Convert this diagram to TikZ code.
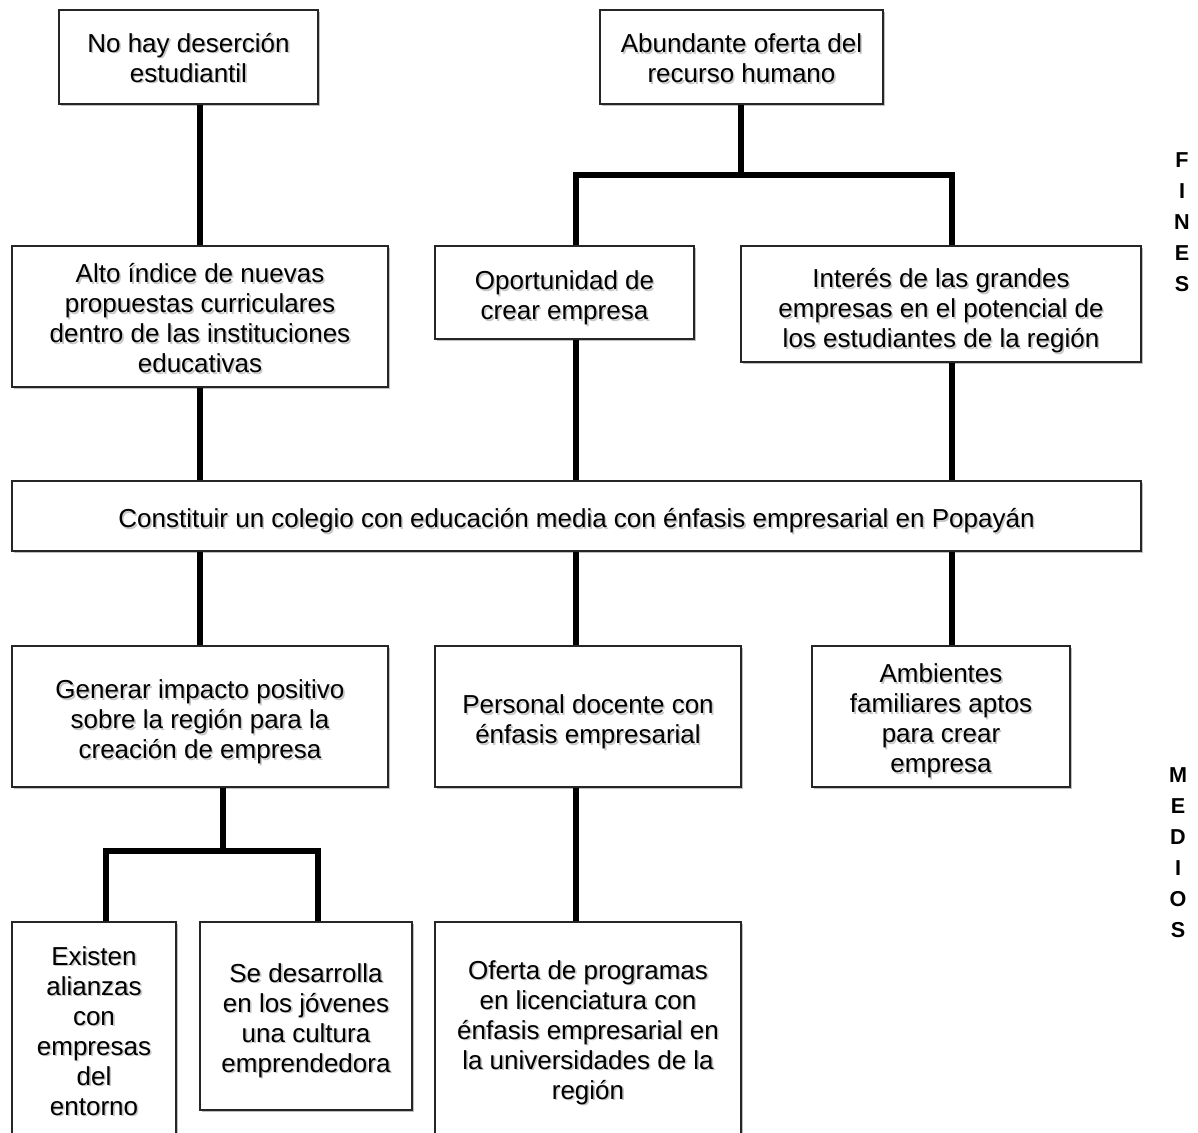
\documentclass[tikz,border=0pt]{standalone}
\usepackage{fontspec}
\setmainfont{Liberation Sans}
\usetikzlibrary{shadows}
% a framed box (#2 name, #3 width, #4 height, #5 centre) with its text #6,
% the text lowered by #1 and given a soft shadow of its own
\newcommand\tbox[6][-2.3pt]{%
  \node[box, minimum width=#3, minimum height=#4] (#2) at #5 {};
  \node[txt, text=black!22] (#2s) at ([shift={(0.8pt,#1-0.8pt)}]#2.center) {#6};
  \node[txt] (#2t) at ([yshift=#1]#2.center) {#6};}
\begin{document}
\begin{tikzpicture}[x=0.5pt,y=-0.5pt,
  box/.style={draw=black!85, line width=0.8pt, fill=white, inner sep=0pt,
    drop shadow={shadow xshift=1.2pt, shadow yshift=-1.2pt, opacity=0.25, fill=black}},
  txt/.style={align=center, inner sep=0pt, font=\fontsize{13}{15}\selectfont},
  conn/.style={line width=2.6pt, line join=miter},
  side/.style={align=center, font=\bfseries\fontsize{10.8}{15.5}\selectfont, inner sep=0pt}]
\useasboundingbox (0,0) rectangle (1198,1132);
\clip (0,0) rectangle (1198,1132);
\fill[white] (0,0) rectangle (1198,1132);

% column positions of the connectors
\coordinate (cA) at (200,0);
\coordinate (cB) at (576,0);
\coordinate (cC) at (952,0);
\coordinate (cD) at (106,0);
\coordinate (cE) at (318,0);
\coordinate (j1) at (741,175);
\coordinate (j2) at (223,851);

% fines
\tbox[-0.4pt]{b1}{129.5pt}{47pt}{(188.5,57)}{No hay deserción\\estudiantil}
\tbox[-0.8pt]{b2}{141.5pt}{47pt}{(741.5,57)}{Abundante oferta del\\recurso humano}
\tbox[-0.8pt]{b3}{188pt}{70.5pt}{(200,316.5)}{Alto índice de nuevas\\propuestas curriculares\\dentro de las instituciones\\educativas}
\tbox[-2.8pt]{b4}{129.5pt}{46.5pt}{(564.5,292.5)}{Oportunidad de\\crear empresa}
\tbox[-3.3pt]{b5}{200pt}{58pt}{(941,304)}{Interés de las grandes\\empresas en el potencial de\\los estudiantes de la región}

% objetivo central
\tbox{b6}{564.5pt}{35pt}{(576.5,516)}{Constituir un colegio con educación media con énfasis empresarial en Popayán}

% medios
\tbox[-2.8pt]{b7}{188pt}{70.5pt}{(200,716.5)}{Generar impacto positivo\\sobre la región para la\\creación de empresa}
\tbox[-2.8pt]{b8}{153pt}{70.5pt}{(588,716.5)}{Personal docente con\\énfasis empresarial}
\tbox{b9}{129pt}{70.5pt}{(941,716.5)}{Ambientes\\familiares aptos\\para crear\\empresa}
\tbox[0pt]{b10}{82pt}{109pt}{(94,1031)}{Existen\\alianzas\\con\\empresas\\del\\entorno}
\tbox{b11}{106pt}{94pt}{(306,1016)}{Se desarrolla\\en los jóvenes\\una cultura\\emprendedora}
\tbox[-0.8pt]{b12}{153pt}{109pt}{(588,1031)}{Oferta de programas\\en licenciatura con\\énfasis empresarial en\\la universidades de la\\región}

% connectors, upper part
\draw[conn] (b1.south -| cA) -- (b3.north -| cA);
\draw[conn] (b2.south -| j1) -- (j1);
\draw[conn] (b4.north -| cB) |- (j1) -| (b5.north -| cC);
\draw[conn] (b3.south -| cA) -- (b6.north -| cA);
\draw[conn] (b4.south -| cB) -- (b6.north -| cB);
\draw[conn] (b5.south -| cC) -- (b6.north -| cC);

% connectors, lower part
\draw[conn] (b6.south -| cA) -- (b7.north -| cA);
\draw[conn] (b6.south -| cB) -- (b8.north -| cB);
\draw[conn] (b6.south -| cC) -- (b9.north -| cC);
\draw[conn] (b7.south -| j2) -- (j2);
\draw[conn] (b10.north -| cD) |- (j2) -| (b11.north -| cE);
\draw[conn] (b8.south -| cB) -- (b12.north -| cB);

% side labels
\node[side] (fines) at (1182,222) {F\\I\\N\\E\\S};
\node[side] (medios) at (1178,853) {M\\E\\D\\I\\O\\S};
\end{tikzpicture}
\end{document}
